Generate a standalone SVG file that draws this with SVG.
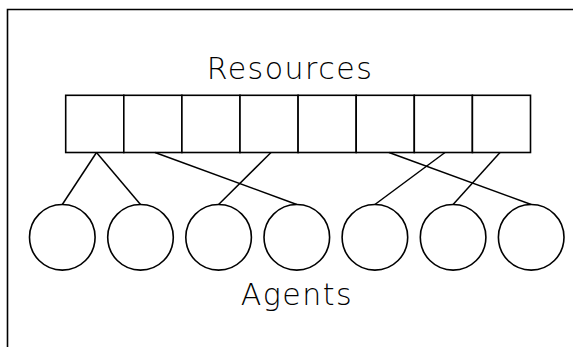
<svg xmlns="http://www.w3.org/2000/svg" width="573" height="347" viewBox="0 0 573 347">
<style>
.frame{fill:none;stroke:#000;stroke-width:1.6}
.box{fill:#fff;stroke:#000;stroke-width:1.6}
.agent{fill:#fff;stroke:#000;stroke-width:1.6}
.conn line{stroke:#000;stroke-width:1.5}
.lbl{font-family:"DejaVu Sans","Liberation Sans",sans-serif;font-weight:200;font-size:30px;fill:#000;text-anchor:middle;letter-spacing:1.5px}
</style>
<rect width="573" height="347" fill="#fff"/>
<path class="frame" d="M7.5,347 V9.5 H573"/>
<text class="lbl" x="290" y="79">Resources</text>
<g id="resources">
<rect class="box" x="65.7" y="95.3" width="58.1" height="57.2"/>
<rect class="box" x="123.8" y="95.3" width="58.1" height="57.2"/>
<rect class="box" x="181.9" y="95.3" width="58.1" height="57.2"/>
<rect class="box" x="240" y="95.3" width="58.1" height="57.2"/>
<rect class="box" x="298.1" y="95.3" width="58.1" height="57.2"/>
<rect class="box" x="356.2" y="95.3" width="58.1" height="57.2"/>
<rect class="box" x="414.3" y="95.3" width="58.1" height="57.2"/>
<rect class="box" x="472.4" y="95.3" width="58.1" height="57.2"/>
</g>
<g id="connectors" class="conn">
<line x1="96.5" y1="152.5" x2="62.3" y2="204.5"/>
<line x1="96.5" y1="152.5" x2="140.5" y2="204.5"/>
<line x1="155" y1="152.5" x2="296.8" y2="204.5"/>
<line x1="271" y1="152.5" x2="218.6" y2="204.5"/>
<line x1="389" y1="152.5" x2="531.2" y2="204.5"/>
<line x1="445" y1="152.5" x2="374.9" y2="204.5"/>
<line x1="500" y1="152.5" x2="453.1" y2="204.5"/>
</g>
<g id="agent1"><circle class="agent" cx="62.3" cy="237.3" r="32.8"/></g>
<g id="agent2"><circle class="agent" cx="140.5" cy="237.3" r="32.8"/></g>
<g id="agent3"><circle class="agent" cx="218.6" cy="237.3" r="32.8"/></g>
<g id="agent4"><circle class="agent" cx="296.8" cy="237.3" r="32.8"/></g>
<g id="agent5"><circle class="agent" cx="374.9" cy="237.3" r="32.8"/></g>
<g id="agent6"><circle class="agent" cx="453.1" cy="237.3" r="32.8"/></g>
<g id="agent7"><circle class="agent" cx="531.2" cy="237.3" r="32.8"/></g>
<text class="lbl" x="297" y="305">Agents</text>
</svg>
